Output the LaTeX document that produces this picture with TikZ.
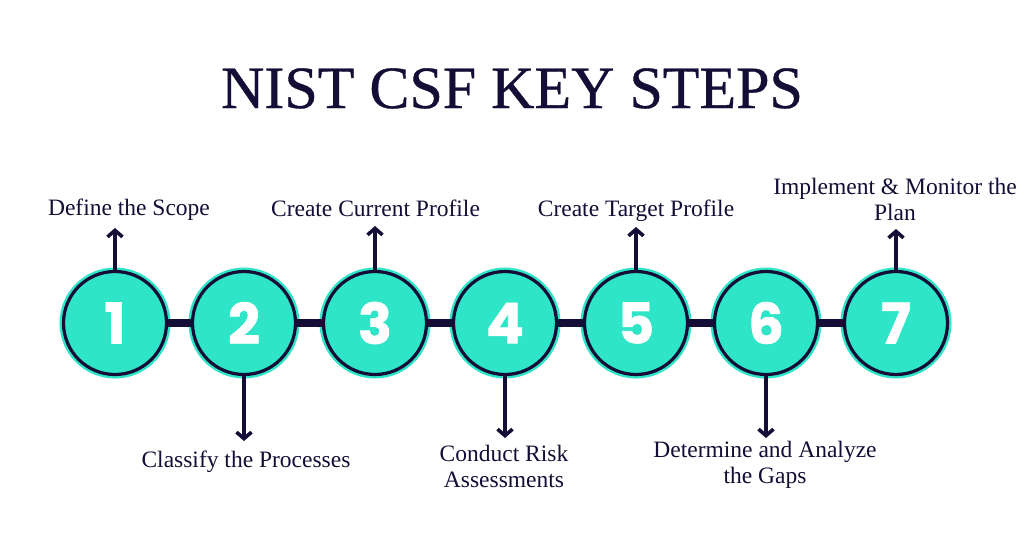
\documentclass[tikz,border=0pt]{standalone}
\usepackage{fontspec}
\setmainfont{Liberation Serif}
\newfontfamily\digitfont{Poppins}[BoldFeatures={FakeBold=1.2}]
\newfontfamily\titlefont{Liberation Serif}[FakeBold=0.6]
\usetikzlibrary{arrows.meta}
\definecolor{navy}{HTML}{140E36}
\definecolor{teal}{HTML}{2EE5C8}
\tikzset{
  stepcircle/.style={circle, draw=navy, fill=teal, line width=3.2pt, minimum size=103pt, inner sep=0pt,
    preaction={draw=teal, line width=8pt},
    font=\digitfont\bfseries\fontsize{56}{56}\selectfont, text=white},
  bar/.style={draw=navy, line width=7.5pt},
  pointer/.style={draw=navy, line width=3.6pt, -{Straight Barb[length=6.5pt,width=15pt,line width=3.6pt]}},
  lbl/.style={text=navy, font=\fontsize{23.5}{26}\selectfont, align=center, inner sep=0pt},
  ttl/.style={text=navy, font=\titlefont\fontsize{60}{62}\selectfont, inner sep=0pt}
}
\begin{document}
\begin{tikzpicture}[x=1pt,y=-1pt]
\useasboundingbox (0,0) rectangle (1024,552);
\fill[white] (0,0) rectangle (1024,552);
\node[ttl, anchor=base] (title) at (512,108) {NIST CSF KEY STEPS};
% circles
\node[stepcircle] (c1) at (115,323) {1};
\node[stepcircle] (c2) at (244,323) {2};
\node[stepcircle] (c3) at (375,323) {3};
\node[stepcircle] (c4) at (505,323) {4};
\node[stepcircle] (c5) at (636,323) {5};
\node[stepcircle] (c6) at (766,323) {6};
\node[stepcircle] (c7) at (896,323) {7};
% bars
\draw[bar] (c1) -- (c2);
\draw[bar] (c2) -- (c3);
\draw[bar] (c3) -- (c4);
\draw[bar] (c4) -- (c5);
\draw[bar] (c5) -- (c6);
\draw[bar] (c6) -- (c7);
% arrow ends
\coordinate (e1) at (115,228);
\coordinate (e2) at (244,441);
\coordinate (e3) at (375,226);
\coordinate (e4) at (505,438);
\coordinate (e5) at (636,227);
\coordinate (e6) at (766,438);
\coordinate (e7) at (896,229);
\draw[pointer] (c1.north) -- (e1);
\draw[pointer] (c2.south) -- (e2);
\draw[pointer] (c3.north) -- (e3);
\draw[pointer] (c4.south) -- (e4);
\draw[pointer] (c5.north) -- (e5);
\draw[pointer] (c6.south) -- (e6);
\draw[pointer] (c7.north) -- (e7);
% labels
\node[lbl, anchor=base] (l1) at (129,215) {Define the Scope};
\node[lbl, anchor=base] (l2) at (246,467) {Classify the Processes};
\node[lbl, anchor=base] (l3) at (375.5,216) {Create Current Profile};
\node[lbl, anchor=base] (l4) at (504,487) {Conduct Risk\\Assessments};
\node[lbl, anchor=base] (l5) at (636,216) {Create Target Profile};
\node[lbl, anchor=base] (l6) at (765,483) {Determine and Analyze\\the Gaps};
\node[lbl, anchor=base] (l7) at (895,220) {Implement \& Monitor the\\Plan};
\end{tikzpicture}
\end{document}
